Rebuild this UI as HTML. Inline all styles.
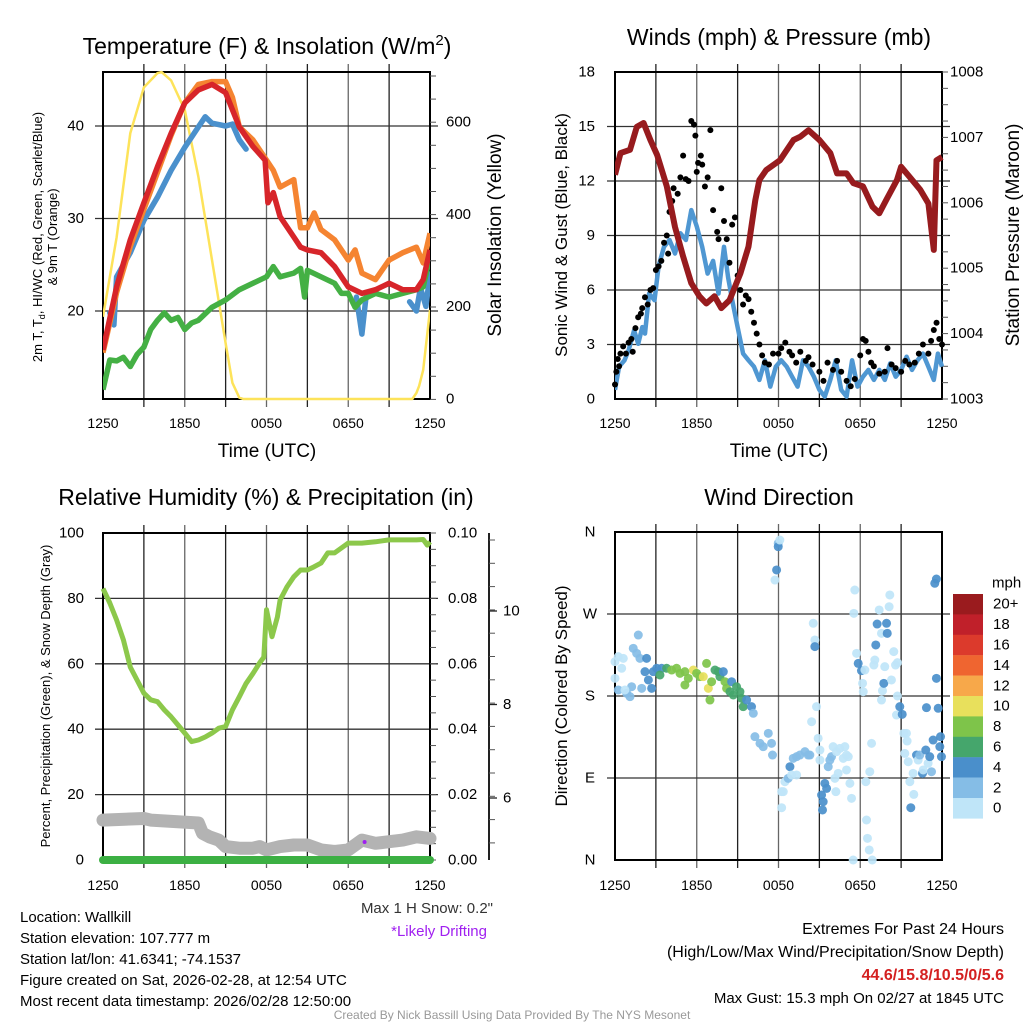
<!DOCTYPE html>
<html><head><meta charset="utf-8">
<style>
html,body{margin:0;padding:0;background:#fff;}
svg{display:block;font-family:"Liberation Sans",Arial,sans-serif;}
</style></head>
<body>
<svg id="chart" width="1024" height="1024" viewBox="0 0 1024 1024" xmlns="http://www.w3.org/2000/svg">
<rect width="1024" height="1024" fill="#fff"/>
<text x="267" y="54" font-size="23" text-anchor="middle">Temperature (F) &amp; Insolation (W/m<tspan dy="-9" font-size="15">2</tspan><tspan dy="9">)</tspan></text>
<text x="779" y="45" font-size="23" text-anchor="middle">Winds (mph) &amp; Pressure (mb)</text>
<text x="266" y="505" font-size="23" text-anchor="middle">Relative Humidity (%) &amp; Precipitation (in)</text>
<text x="779" y="505" font-size="23" text-anchor="middle">Wind Direction</text>
<text x="267" y="457" font-size="19" text-anchor="middle">Time (UTC)</text>
<text x="779" y="457" font-size="19" text-anchor="middle">Time (UTC)</text>
<text font-size="13" text-anchor="middle" transform="translate(42,237) rotate(-90)">2m T, T<tspan dy="3" font-size="9">d</tspan><tspan dy="-3">, HI/WC (Red, Green, Scarlet/Blue)</tspan></text>
<text font-size="13" text-anchor="middle" transform="translate(57,237) rotate(-90)">&amp; 9m T (Orange)</text>
<text font-size="19" text-anchor="middle" transform="translate(501,235) rotate(-90)">Solar Insolation (Yellow)</text>
<text font-size="17" text-anchor="middle" transform="translate(567,235) rotate(-90)">Sonic Wind &amp; Gust (Blue, Black)</text>
<text font-size="19" text-anchor="middle" transform="translate(1019,235) rotate(-90)">Station Pressure (Maroon)</text>
<text font-size="13" text-anchor="middle" transform="translate(50,696) rotate(-90)">Percent, Precipitation (Green), &amp; Snow Depth (Gray)</text>
<text font-size="17" text-anchor="middle" transform="translate(567,696) rotate(-90)">Direction (Colored By Speed)</text>
<g font-size="15" fill="#000">
<text x="20" y="922">Location: Wallkill</text>
<text x="20" y="943">Station elevation: 107.777 m</text>
<text x="20" y="964">Station lat/lon: 41.6341; -74.1537</text>
<text x="20" y="985">Figure created on Sat, 2026-02-28, at 12:54 UTC</text>
<text x="20" y="1006">Most recent data timestamp: 2026/02/28 12:50:00</text>
<text x="493" y="913" text-anchor="end" fill="#333">Max 1 H Snow: 0.2"</text>
<text x="487" y="936" text-anchor="end" fill="#a020f0">*Likely Drifting</text>
<text x="1004" y="934" text-anchor="end" font-size="16">Extremes For Past 24 Hours</text>
<text x="1004" y="957" text-anchor="end" font-size="16">(High/Low/Max Wind/Precipitation/Snow Depth)</text>
<text x="1004" y="980" text-anchor="end" font-size="16" font-weight="bold" fill="#d42020">44.6/15.8/10.5/0/5.6</text>
<text x="1004" y="1003" text-anchor="end" font-size="15">Max Gust: 15.3 mph On 02/27 at 1845 UTC</text>
<text x="512" y="1019" text-anchor="middle" font-size="12" fill="#999">Created By Nick Bassill Using Data Provided By The NYS Mesonet</text>
</g>
<g id="layer"></g>
</svg>
<script>
const redHours = [0,1,2,3,4,5,6,7,8,9,10,11,11.9,12.1,12.5,13,14,14.5,15,16,17,18,19,20,21,22,23,23.5,24];
const redTemps = [15.8,22.6,27.7,31.7,35.6,39.2,42.5,43.9,44.5,43.6,39.9,37.8,36.3,31.7,32.8,30.2,28,26.9,26.6,26.3,24.8,22.6,21.9,22.3,23,22.3,22.3,23.4,26.6];
const orangeHours = [0,1,2,3,4,5,6,7,8,9,9.5,10,11,12,12.5,13,14,14.5,15,15.5,16,17,18,18.5,19,20,21,22,23,23.5,24];
const orangeTemps = [15.5,22,27,31,35,39,42.5,44.5,44.8,44.8,43.1,39.9,38.5,36.3,35.2,33.4,34.2,29,29,30.6,28.8,27.7,25.5,26.6,24.1,23.4,25.5,26.3,26.9,25.2,28.4];
const blueHours = [0.5,0.8,1,2,3,4,5,6,7,7.5,8,9,9.5,10,10.5];
const blueTemps = [19.8,18.5,23.7,26.3,29.8,32.3,35.2,37.7,39.9,41,40.3,40,40.2,38.5,37.5];
const blue2Hours = [22.5,23,23.3,23.7,24];
const blue2Temps = [21,20,22.5,20.5,24];
const blue3Hours = [18.6,19,19.3];
const blue3Temps = [21.5,17.5,21.5];
const greenHours = [0,0.5,1,1.5,2,2.5,3,3.5,4,4.5,5,5.5,6,6.5,7,8,9,10,11,12,12.5,13,14,14.5,14.8,15,16,17,17.5,18,18.5,19,20,21,22,23,23.5,24];
const greenTemps = [11.5,14.7,14.6,15.0,14.0,15.3,16.1,18,19,19.8,19,19.3,18,18.7,19,20.4,21.2,22.3,23,23.7,24.8,23.7,24.1,24.6,21.5,24.4,23.7,23,21.9,21.9,20.4,21.2,21.9,21.5,21.9,22.3,22.6,25.9];
const solarHours = [0,1,2,3,4,4.3,5,6,7,8,9,9.5,10,10.3,22.7,23,23.2,23.5,24];
const solarValues = [178,350,576,675,706,708,690,626,481,301,121,35,3,0,0,13,28,63,193];
const tempTicks = [20,30,40];
const solarTicks = [0,200,400,600];
const timeTickLabels = ["1250","1850","0050","0650","1250"];
const timeTickHours = [0,6,12,18,24];
const windHours = [0,0.3,0.7,1,1.4,1.7,2,2.2,2.5,2.9,3.2,3.6,4,4.4,4.8,5.2,5.6,6,6.4,6.8,7.2,7.6,8,8.3,8.6,9,9.4,9.8,10.2,10.6,11,11.4,11.8,12.2,12.6,13,13.4,13.8,14.2,14.6,15,15.4,15.8,16.2,16.6,17,17.4,17.8,18.2,18.6,19,19.4,19.8,20.2,20.6,21,21.4,21.8,22.2,22.6,23,23.4,23.7,24];
const windSpeeds = [0.5,1.78,2.13,2.68,3.78,3.04,3.96,3.6,5.81,5.44,7.31,8.38,8.75,8.01,9.12,8.75,10.4,9.49,8.38,6.9,7.6,5.81,8.38,6.7,5.44,3.96,2.5,2.13,1.78,1.05,2.13,0.68,1.78,2.13,1.78,1.23,0.68,2.13,1.78,1.23,0.5,0.13,1.05,2.13,0.5,0.13,2.13,0.68,1.23,1.6,1.05,1.6,1.05,1.96,1.23,1.6,2.33,1.6,2.13,2.5,1.78,1.05,2.5,1.78];
const gustHours = [0,0.1,0.2,0.3,0.4,0.6,0.8,1,1.2,1.3,1.5,1.7,1.9,2,2.2,2.4,2.6,2.8,3,3.2,3.4,3.6,3.8,3.9,4,4.2,4.3,4.6,4.8,5,5.2,5.4,5.6,5.8,5.9,6,6.1,6.3,6.4,6.6,6.8,7,7.2,7.5,7.6,7.8,8,8.2,8.4,8.6,8.8,9,9.2,9.4,9.6,9.8,10,10.2,10.4,10.6,10.8,11,11.3,11.6,12,12.2,12.5,12.8,13,13.3,13.6,14,14.2,14.5,15,15.3,15.6,16,16.3,16.6,17,17.3,17.6,18,18.2,18.4,18.6,18.8,19,19.4,19.8,20,20.3,20.6,21,21.3,21.6,22,22.3,22.6,23,23.2,23.4,23.6,23.8,24];
const gustSpeeds = [0.8,1.5,2.2,1.8,2.5,2.9,2.5,3.1,3.3,2.6,3.9,4.5,4.7,5.0,5.6,5.2,6.0,6.1,7.1,7.3,7.6,8.6,9.0,8.0,10.3,10.9,11.6,11.3,12.2,13.4,12.1,12.0,15.3,15.1,14.5,12.5,13.0,13.4,12.9,11.7,12.2,14.8,10.4,9.2,8.8,11.6,9.8,8.8,7.5,9.6,10.0,6.8,6.0,5.2,5.7,5.5,4.8,4.2,3.6,3.0,2.4,2.0,1.9,2.5,2.5,2.8,3.1,2.6,2.4,2.0,2.6,2.1,2.3,1.9,1.5,1.0,2.0,1.6,2.1,1.5,1.0,0.7,1.1,2.4,3.3,3.2,2.6,2.0,1.8,1.4,1.5,2.8,1.9,1.7,1.5,2.1,1.9,2.0,2.5,3.0,2.5,3.2,3.8,4.2,3.3,3.0];
const pressureHours = [0,0.4,1.1,1.6,2.1,2.6,3.1,3.8,4.4,5,5.6,6.2,6.7,7.3,7.8,8.4,9.2,9.8,10.3,10.6,11.1,12.1,13.1,13.6,14.2,15,15.8,16.3,17,17.5,18.2,18.9,19.4,19.9,20.7,21,21.6,22.4,23,23.4,23.6,24];
const pressureValues = [1006.43,1006.76,1006.81,1007.16,1007.22,1006.96,1006.73,1006.25,1005.63,1005.18,1004.77,1004.57,1004.46,1004.57,1004.39,1004.51,1004.92,1005.33,1006.04,1006.35,1006.50,1006.65,1006.96,1007.01,1007.11,1006.96,1006.76,1006.45,1006.45,1006.30,1006.25,1005.94,1005.84,1006.04,1006.35,1006.55,1006.40,1006.20,1005.99,1005.28,1006.65,1006.70];
const windTicks = [0,3,6,9,12,15,18];
const pressureTicks = [1003,1004,1005,1006,1007,1008];
const rhHours = [0,0.5,1,1.5,2,2.5,3,3.5,4,4.5,5,5.5,6,6.5,7,7.5,8,8.5,9,9.5,10,10.5,11,11.5,11.8,12,12.4,12.8,13,13.5,14,14.5,15,15.5,16,16.5,17,17.5,18,19,20,21,22,23,23.5,23.8,24];
const rhValues = [83,78.6,73.4,67.3,59,55,51,49,48.4,45.9,43.8,41.3,38.8,36.2,36.7,37.6,38.8,40.3,40.8,45.9,49.9,54,57,60.3,62,76.5,68.3,74.3,79.5,83.5,86.6,88.7,88.7,89.7,90.8,93.9,93.9,95.4,96.9,96.9,97.3,97.9,97.9,97.9,98,96.3,97.3];
const snowHours = [0,3,3.5,7,7.3,7.8,8.5,9,10,11,11.5,12,13,14,15,16,17,18,18.5,19,20,21,22,23,24];
const snowValues = [12.2,12.7,12.2,11.3,8.2,7.1,6.1,4.1,3.6,3.6,4.1,3.1,4.1,4.6,4.6,3.1,2.6,3.1,4.6,6.1,5.1,5.6,6.1,7.1,6.6];
const precipHours = [0,24];
const precipValues = [0,0];
const driftHours = [19.2];
const driftValues = [5.5];
const rhTicks = [0,20,40,60,80,100];
const precipTicks = ["0.00","0.02","0.04","0.06","0.08","0.10"];
const snowAxisTicks = [6,8,10];
const dirHours = [0,0.24,0.61,0.49,0,0.24,0.86,1.1,1.22,0.73,1.34,1.59,1.71,1.83,1.96,2.32,2.2,2.45,2.69,2.81,3.06,3.42,3.3,3.79,4.16,4.52,4.77,5.13,5.13,5.38,5.75,5.99,6.23,6.48,6.72,6.85,6.97,7.09,7.34,7.58,7.7,7.95,8.07,8.19,8.44,8.56,8.68,8.92,9.17,9.29,9.41,9.66,10.02,10.15,10.27,10.64,10.88,11.25,11.49,11.56,11.98,11.98,12.1,11.86,11.74,12.23,12.35,12.47,12.71,12.84,13.08,13.33,13.57,13.94,14.18,14.3,12.96,13.33,12.23,14.43,14.55,14.67,14.67,14.79,14.91,15.04,15.04,15.16,15.28,15.23,15.4,15.53,15.65,15.77,15.89,16.01,16.26,16.5,16.75,16.87,16.99,17.12,16.99,16.14,16.21,16.38,17.24,17.36,17.48,17.6,17.53,17.73,17.85,18.09,18.17,18.22,18.34,18.41,18.46,18.53,18.66,18.88,18.83,18.7,19.0,19.07,19.14,19.24,19.39,19.56,19.63,19.56,19.73,19.8,19.93,19.98,20.12,20.17,20.29,20.46,20.59,20.73,20.66,20.73,20.9,21.08,21.2,21.39,21.44,21.27,21.52,21.64,21.71,21.88,21.93,22.13,22.25,22.37,22.57,22.62,22.81,22.98,23.1,23.23,23.35,23.59,23.72,23.84,23.89,23.96,23.47,23.59,22.86];
const dirDegrees = [217.7,223.2,221.3,210.4,199.4,186.6,182.9,179.3,190.2,186.6,232.3,226.8,246.9,221.3,188.4,221.3,206.7,197.6,188.4,206.7,210.4,210.4,203.1,210.4,208.5,210.4,204.9,206.7,192.1,199.4,208.5,204.9,201.2,201.2,215.8,188.4,175.6,195.7,208.5,206.7,201.2,206.7,195.7,188.4,184.7,195.7,181.1,190.2,184.7,177.4,168.3,175.6,168.3,161.0,135.4,128.0,124.4,139.0,128.0,115.2,347.6,343.9,351.2,318.3,307.3,75.0,75.0,85.9,89.6,102.4,111.6,113.4,115.2,118.9,115.2,115.2,93.3,93.3,57.4,151.8,259.8,241.5,234.2,168.3,133.5,120.7,109.7,71.3,64.0,54.9,84.1,78.6,102.4,109.7,113.4,124.4,118.9,122.5,111.6,124.4,115.2,113.4,98.8,89.6,75.0,95.1,84.1,67.7,0,296.3,270.7,226.8,215.8,207.8,193.9,184.7,208.5,85.9,43.9,23.8,11,0,128.0,96.9,214.0,219.5,236.0,259.0,274.4,248.8,185.8,175.6,193.9,212.2,259.8,248.8,278.0,290.9,197.6,228.7,214.0,216.6,159.1,180.0,168.3,159.9,139.0,139.0,130.6,117.0,107.9,85.9,57.4,95.1,72.0,115.2,109.7,115.2,95.1,98.8,120.7,106.1,113.4,96.9,131.7,199.4,166.5,124.4,135.4,113.4,303.7,308.4,167.2];
const dirSpeeds = [1,1,1,1,1,3,3,3,3,1,3,3,3,3,3,5,5,5,5,5,5,5,7,7,9,9,9,9,9,9,11,9,9,11,9,11,9,9,7,7,7,5,9,9,7,5,7,7,7,7,7,5,5,3,3,3,3,3,3,3,3,5,1,5,1,1,1,1,3,5,3,3,3,3,3,3,1,1,1,1,1,1,5,1,1,1,1,5,5,5,5,5,3,3,3,1,1,1,1,1,1,1,1,1,1,1,1,1,1,1,1,1,5,5,1,1,1,1,1,1,1,1,1,1,1,1,5,5,1,1,1,1,5,1,5,5,1,1,1,1,1,1,1,1,5,5,1,1,1,1,1,1,5,1,1,5,1,3,5,1,5,1,5,3,5,5,5,5,5,5,5,5,5,5,5,1];
const dirTickLabels = ["N","E","S","W","N"];
const dirTickDegrees = [0,90,180,270,360];
const speedColors = ["#bfe5f8","#85bde6","#4a8fcb","#45a66c","#7ec44a","#e8e05c","#f7a84a","#ef6530","#dc3a2c","#c0202a","#9a1b1e"];
const speedLabels = ["0","2","4","6","8","10","12","14","16","18","20+"];

const NS = "http://www.w3.org/2000/svg";
const layer = document.getElementById('layer');
function mk(tag, attrs, parent){
  const e = document.createElementNS(NS, tag);
  for (const k in attrs) e.setAttribute(k, attrs[k]);
  (parent || layer).appendChild(e);
  return e;
}
function scale(d0,d1,r0,r1){ return v => r0 + (v-d0)*(r1-r0)/(d1-d0); }
function pathFrom(xs, ys, fx, fy){
  let d = "";
  for (let i=0;i<xs.length;i++){ d += (i?"L":"M") + fx(xs[i]).toFixed(1) + "," + fy(ys[i]).toFixed(1); }
  return d;
}
function drawFrame(name, x0, x1, y0, y1, hLines){
  const g = mk('g', {});
  
  
  for (let i=1;i<8;i++){
    const x = x0 + (x1-x0)*i/8;
    const gl = mk('line', {x1:x, x2:x, y1:y0-8, y2:y1+8, stroke: i%2 ? "#222" : "#666", 'stroke-width':1.3}, g);
    
    
  }
  for (const y of hLines){
    const hl = mk('line', {x1:x0-8, x2:x1+8, y1:y, y2:y, stroke:"#333", 'stroke-width':1.3}, g);
    
    
  }
  const fr = mk('rect', {x:x0, y:y0, width:x1-x0, height:y1-y0, fill:"none", stroke:"#000", 'stroke-width':2}, g);
  
  
}
function txt(x, y, s, anchor, size, parent){
  const t = mk('text', {x:x, y:y, 'text-anchor':anchor, 'font-size':size, 'dominant-baseline':'central'}, parent);
  t.textContent = s;
  return t;
}
function minorTicks(x, y0, y1, step, dir){
  for (let y=y0; y<=y1+0.5; y+=step){
    const m = mk('line', {x1:x, x2:x+dir*6, y1:y, y2:y, stroke:"#555", 'stroke-width':1});
    
    
  }
}

{
  const X0=103, X1=430, Y0=72, Y1=399;
  const fx = scale(0,24,X0,X1);
  const fy = scale(20,40,311,126);
  const fs = scale(0,600,399,122);
  drawFrame('temperature', X0, X1, Y0, Y1, tempTicks.map(fy));
  minorTicks(X0-6, 80, 399, 46.25, 0);
  minorTicks(X1, 76, 399, 23.1, 1);
  for (const v of tempTicks){
    const t = txt(84, fy(v), String(v), 'end', 15);
    
    
  }
  for (const v of solarTicks){
    const t = txt(446, fs(v), String(v), 'start', 15);
    
    
  }
  timeTickHours.forEach((h,i)=>{
    const t = txt(fx(h), 423, timeTickLabels[i], 'middle', 14);
    
    
  });
  const clip = mk('clipPath', {id:'clip1'});
  mk('rect', {x:X0, y:Y0-2, width:X1-X0, height:Y1-Y0+4}, clip);
  const solar = mk('path', {d:pathFrom(solarHours, solarValues, fx, fs), fill:'none', stroke:'#fde35a', 'stroke-width':2.5, 'stroke-linejoin':'round', 'clip-path':'url(#clip1)'});
  
  
  for (const [hs, vs] of [[blueHours, blueTemps],[blue2Hours, blue2Temps],[blue3Hours, blue3Temps]]){
    const b = mk('path', {d:pathFrom(hs, vs, fx, fy), fill:'none', stroke:'#4a90cc', 'stroke-width':5.5, 'stroke-linejoin':'round', 'stroke-linecap':'round', 'clip-path':'url(#clip1)'});
    
    
  }
  const gr = mk('path', {d:pathFrom(greenHours, greenTemps, fx, fy), fill:'none', stroke:'#44b044', 'stroke-width':5.5, 'stroke-linejoin':'round', 'clip-path':'url(#clip1)'});
  
  
  const or = mk('path', {d:pathFrom(orangeHours, orangeTemps, fx, fy), fill:'none', stroke:'#f58431', 'stroke-width':5.5, 'stroke-linejoin':'round', 'clip-path':'url(#clip1)'});
  
  
  const rd = mk('path', {d:pathFrom(redHours, redTemps, fx, fy), fill:'none', stroke:'#d7252a', 'stroke-width':5.5, 'stroke-linejoin':'round', 'clip-path':'url(#clip1)'});
  
  
}

{
  const X0=615, X1=942, Y0=72, Y1=399;
  const fx = scale(0,24,X0,X1);
  const fy = scale(0,18,399,72);
  const fp = scale(1003,1008,399,72);
  drawFrame('winds', X0, X1, Y0, Y1, windTicks.slice(1,-1).map(fy));
  minorTicks(X0-6, 72, 399, 27.25, 0);
  minorTicks(X1, 72, 399, 16.35, 1);
  for (const v of windTicks){
    const t = txt(595, fy(v), String(v), 'end', 15);
    
    
  }
  for (const v of pressureTicks){
    const t = txt(950, fp(v), String(v), 'start', 15);
    
    
  }
  timeTickHours.forEach((h,i)=>{
    const t = txt(fx(h), 423, timeTickLabels[i], 'middle', 14);
    
    
  });
  const clip = mk('clipPath', {id:'clip2'});
  mk('rect', {x:X0, y:Y0-2, width:X1-X0+4, height:Y1-Y0+2}, clip);
  const w = mk('path', {d:pathFrom(windHours, windSpeeds, fx, fy), fill:'none', stroke:'#4f97d2', 'stroke-width':4.5, 'stroke-linejoin':'round', 'clip-path':'url(#clip2)'});
  
  
  for (let i=0;i<gustHours.length;i++){
    const c = mk('circle', {cx:fx(gustHours[i]), cy:fy(gustSpeeds[i]), r:3, fill:'#000'});
    
    
  }
  const p = mk('path', {d:pathFrom(pressureHours, pressureValues, fx, fp), fill:'none', stroke:'#971b1e', 'stroke-width':6, 'stroke-linejoin':'round', 'clip-path':'url(#clip2)'});
  
  
}

{
  const X0=103, X1=430, Y0=533, Y1=860;
  const fx = scale(0,24,X0,X1);
  const fy = scale(0,100,860,533);
  drawFrame('humidity', X0, X1, Y0, Y1, rhTicks.slice(1,-1).map(fy));
  minorTicks(X0-6, 533, 860, 32.7, 0);
  minorTicks(X1, 533, 860, 16.35, 1);
  rhTicks.forEach((v,i)=>{
    const t = txt(84, fy(v), String(v), 'end', 15);
    
    
    const t2 = txt(448, fy(v), precipTicks[i], 'start', 15);
    
    
  });
  const ax = mk('line', {x1:489, x2:489, y1:533, y2:860, stroke:'#222', 'stroke-width':2});
  
  
  minorTicks(489, 540, 860, 23.3, 1);
  const fsd = scale(6,10,798,611);
  for (const v of snowAxisTicks){
    const tk = mk('line', {x1:489, x2:497, y1:fsd(v), y2:fsd(v), stroke:'#222', 'stroke-width':1.3});
    
    
    const t = txt(503, fsd(v), String(v), 'start', 15);
    
    
  }
  timeTickHours.forEach((h,i)=>{
    const t = txt(fx(h), 885, timeTickLabels[i], 'middle', 14);
    
    
  });
  const sn = mk('path', {d:pathFrom(snowHours, snowValues, fx, fy), fill:'none', stroke:'#b3b3b3', 'stroke-width':13, 'stroke-linejoin':'round', 'stroke-linecap':'round'});
  
  
  const pr = mk('path', {d:pathFrom(precipHours, precipValues, fx, fy), fill:'none', stroke:'#3cb043', 'stroke-width':8, 'stroke-linecap':'round'});
  
  
  const rh = mk('path', {d:pathFrom(rhHours, rhValues, fx, fy), fill:'none', stroke:'#8cc84b', 'stroke-width':5, 'stroke-linejoin':'round'});
  
  
  for (let i=0;i<driftHours.length;i++){
    const d = mk('circle', {cx:fx(driftHours[i]), cy:fy(driftValues[i]), r:2, fill:'#a020f0'});
    
    
  }
}

{
  const X0=615, X1=942, Y0=532, Y1=860;
  const fx = scale(0,24,X0,X1);
  const fy = scale(0,360,860,532);
  drawFrame('direction', X0, X1, Y0, Y1, [90,180,270].map(fy));
  dirTickDegrees.forEach((d,i)=>{
    const t = txt(590, fy(d), dirTickLabels[i], 'middle', 15);
    
    
  });
  timeTickHours.forEach((h,i)=>{
    const t = txt(fx(h), 885, timeTickLabels[i], 'middle', 14);
    
    
  });
  for (let i=0;i<dirHours.length;i++){
    const idx = Math.min(10, Math.floor(dirSpeeds[i]/2));
    const c = mk('circle', {cx:fx(dirHours[i]), cy:fy(dirDegrees[i]), r:4.5, fill:speedColors[idx], 'fill-opacity':0.92});
    
    
  }
  const mt = txt(992, 583, 'mph', 'start', 15);
  
  
  for (let i=0;i<speedColors.length;i++){
    const k = speedColors.length-1-i;
    const y = 594 + i*20.4;
    const r = mk('rect', {x:953, y:y, width:30, height:20.6, fill:speedColors[k]});
    
    
    const t = txt(993, y+10.2, speedLabels[k], 'start', 15);
    
    
  }
}
</script>
</body></html>
